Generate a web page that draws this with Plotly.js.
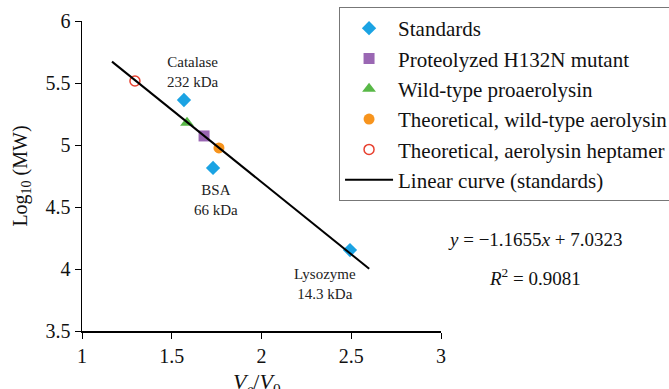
<!DOCTYPE html>
<html>
<head>
<meta charset="utf-8">
<script src="https://cdn.plot.ly/plotly-3.0.1.min.js"></script>
<style>html,body{margin:0;padding:0;background:#fff;}#chart{width:669px;height:389px;}</style>
</head>
<body>
<div id="chart"></div>
<script>
// Data
const standardsX = [1.568, 1.730, 2.493];
const standardsY = [5.363, 4.815, 4.153];
const standardsNames = ["Catalase<br>232 kDa", "BSA<br>66 kDa", "Lysozyme<br>14.3 kDa"];
const mutantX = [1.680];
const mutantY = [5.073];
const proX = [1.585];
const proY = [5.180];
const theoWtX = [1.763];
const theoWtY = [4.976];
const theoHeptX = [1.295];
const theoHeptY = [5.516];
const slope = -1.1655;
const intercept = 7.0323;
const r2 = 0.9081;
const fitX = [1.167, 2.600];
const fitY = fitX.map(x => slope * x + intercept);

const serif = "Liberation Serif, Times New Roman, serif";

const traces = [
  {x: standardsX, y: standardsY, mode: "markers", type: "scatter", name: "Standards",
   marker: {symbol: "diamond", size: 11, color: "#1ba3e3"}},
  {x: mutantX, y: mutantY, mode: "markers", type: "scatter", name: "Proteolyzed H132N mutant",
   marker: {symbol: "square", size: 11, color: "#9a67b3"}},
  {x: proX, y: proY, mode: "markers", type: "scatter", name: "Wild-type proaerolysin",
   marker: {symbol: "triangle-up", size: 12, color: "#58b847"}},
  {x: theoWtX, y: theoWtY, mode: "markers", type: "scatter", name: "Theoretical, wild-type aerolysin",
   marker: {symbol: "circle", size: 11, color: "#f7941d"}},
  {x: theoHeptX, y: theoHeptY, mode: "markers", type: "scatter", name: "Theoretical, aerolysin heptamer",
   marker: {symbol: "circle-open", size: 10, color: "#e8402f", line: {width: 1.5}}},
  {x: fitX, y: fitY, mode: "lines", type: "scatter", name: "Linear curve (standards)",
   line: {color: "#000", width: 2}}
];

const annotations = standardsNames.map((t, i) => ({
  x: standardsX[i], y: standardsY[i], xref: "x", yref: "y",
  text: t, showarrow: false,
  xshift: [9, 3, -25][i], yshift: [28, -32, -34][i],
  font: {family: serif, size: 15, color: "#222"}, align: "center"
}));
annotations.push({
  xref: "paper", yref: "paper", x: 1.262, y: 0.294, xanchor: "center", yanchor: "middle",
  text: "<i>y</i> = −" + Math.abs(slope).toFixed(4) + "<i>x</i> + " + intercept.toFixed(4),
  showarrow: false, font: {family: serif, size: 19, color: "#111"}
});
annotations.push({
  xref: "paper", yref: "paper", x: 1.262, y: 0.174, xanchor: "center", yanchor: "middle",
  text: "<i>R</i><sup>2</sup> = " + r2.toFixed(4),
  showarrow: false, font: {family: serif, size: 19, color: "#111"}
});
// x-axis title (sits partly below the bottom edge, as in the reference)
annotations.push({
  xref: "paper", yref: "paper", x: 0.487, y: -0.168, xanchor: "center", yanchor: "middle",
  text: "<i>V</i><sub><i>e</i></sub>/<i>V</i><sub>0</sub>",
  showarrow: false, font: {family: serif, size: 22, color: "#111"}
});

const layout = {
  width: 669, height: 389,
  margin: {l: 82, r: 228, t: 21, b: 58, autoexpand: false},
  paper_bgcolor: "#fff", plot_bgcolor: "#fff",
  showlegend: true,
  font: {family: serif, color: "#111"},
  xaxis: {
    range: [1, 3], dtick: 0.5, showgrid: false, zeroline: false,
    showline: true, linecolor: "#000", linewidth: 1.5,
    ticks: "outside", ticklen: 6, tickcolor: "#000",
    tickfont: {family: serif, size: 20, color: "#111"}
  },
  yaxis: {
    range: [3.5, 6], dtick: 0.5, showgrid: false, zeroline: false,
    showline: true, linecolor: "#000", linewidth: 1.5,
    ticks: "outside", ticklen: 6, tickcolor: "#000",
    tickfont: {family: serif, size: 20, color: "#111"},
    title: {text: "Log<sub>10</sub> (MW)", font: {family: serif, size: 20}, standoff: 12}
  },
  legend: {
    x: 0.716, y: 1.045, xanchor: "left", yanchor: "top",
    bordercolor: "#777", borderwidth: 1, bgcolor: "#fff",
    font: {family: serif, size: 21, color: "#111"},
    itemwidth: 48, tracegroupgap: 0
  },
  annotations: annotations
};

Plotly.newPlot("chart", traces, layout, {displayModeBar: false, staticPlot: true});
</script>
</body>
</html>
